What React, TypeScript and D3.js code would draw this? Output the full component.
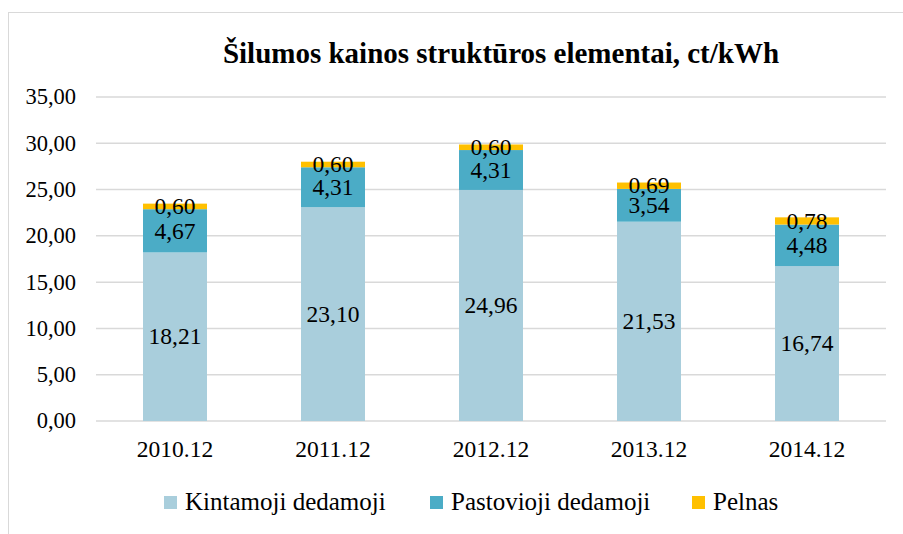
import React, { useEffect, useRef } from "react";
import * as d3 from "d3";

const categories = ["2010.12", "2011.12", "2012.12", "2013.12", "2014.12"];
const kintamoji = [18.21, 23.1, 24.96, 21.53, 16.74];
const pastovioji = [4.67, 4.31, 4.31, 3.54, 4.48];
const pelnas = [0.6, 0.6, 0.6, 0.69, 0.78];
const seriesNames = ["Kintamoji dedamoji", "Pastovioji dedamoji", "Pelnas"];
const colors = ["#A9CEDC", "#4BACC6", "#FFC000"];
const yTicks = [0, 5, 10, 15, 20, 25, 30, 35];
const titleText = "Šilumos kainos struktūros elementai, ct/kWh";

const W = 903;
const H = 534;
const FONT = "Liberation Serif, Times New Roman, serif";

export default function App() {
  const ref = useRef<SVGSVGElement | null>(null);
  useEffect(() => {
    const svg = d3.select(ref.current);
    svg.selectAll("*").remove();
    const x = d3.scaleBand<string>().domain(categories).range([96, 886]).paddingInner(0.595).paddingOuter(0.2975);
    const y = d3.scaleLinear().domain([0, 35]).range([421, 97]);
    const fmt = (v: number) => v.toFixed(2).replace(".", ",");

    svg.append("rect").attr("width", W).attr("height", H).attr("fill", "#fff");
    svg.append("rect").attr("x", 8.5).attr("y", 12.5).attr("width", W + 10).attr("height", H + 10)
      .attr("fill", "#fff").attr("stroke", "#D9D9D9");

    svg.append("text").attr("x", 501).attr("y", 63).attr("text-anchor", "middle")
      .attr("font-family", FONT).attr("font-size", 29).attr("font-weight", "bold").text(titleText);

    const g = svg.append("g").selectAll("g").data(yTicks).join("g");
    g.append("line").attr("x1", 96).attr("x2", 886).attr("y1", (d) => y(d)).attr("y2", (d) => y(d))
      .attr("stroke", "#D9D9D9").attr("stroke-width", 1.5);
    g.append("text").attr("x", 76).attr("y", (d) => y(d)).attr("dy", "0.33em").attr("text-anchor", "end")
      .attr("font-family", FONT).attr("font-size", 22.5).text((d) => fmt(d));

    const series = [kintamoji, pastovioji, pelnas];
    const stacked = categories.map((c, i) => {
      let acc = 0;
      return series.map((s, k) => {
        const y0 = acc;
        acc += s[i];
        return { c, k, v: s[i], y0, y1: acc };
      });
    }).flat();

    svg.append("g").selectAll("rect").data(stacked).join("rect")
      .attr("x", (d) => x(d.c) as number).attr("width", x.bandwidth())
      .attr("y", (d) => y(d.y1)).attr("height", (d) => y(d.y0) - y(d.y1))
      .attr("fill", (d) => colors[d.k]);

    svg.append("g").selectAll("text").data(stacked).join("text")
      .attr("x", (d) => (x(d.c) as number) + x.bandwidth() / 2)
      .attr("y", (d) => (y(d.y0) + y(d.y1)) / 2).attr("dy", "0.33em").attr("text-anchor", "middle")
      .attr("font-family", FONT).attr("font-size", 23.5).text((d) => fmt(d.v));

    svg.append("g").selectAll("text").data(categories).join("text")
      .attr("x", (d) => (x(d) as number) + x.bandwidth() / 2).attr("y", 457).attr("text-anchor", "middle")
      .attr("font-family", FONT).attr("font-size", 23.5).text((d) => d);

    const legendX = [164, 430, 692];
    const lg = svg.append("g").selectAll("g").data(seriesNames).join("g");
    lg.append("rect").attr("x", (_d, i) => legendX[i]).attr("y", 496).attr("width", 13).attr("height", 13)
      .attr("fill", (_d, i) => colors[i]);
    lg.append("text").attr("x", (_d, i) => legendX[i] + 21).attr("y", 510)
      .attr("font-family", FONT).attr("font-size", 25).text((d) => d);
  }, []);
  return <svg ref={ref} width={W} height={H} style={{ position: "absolute", left: 0, top: 0 }} />;
}
